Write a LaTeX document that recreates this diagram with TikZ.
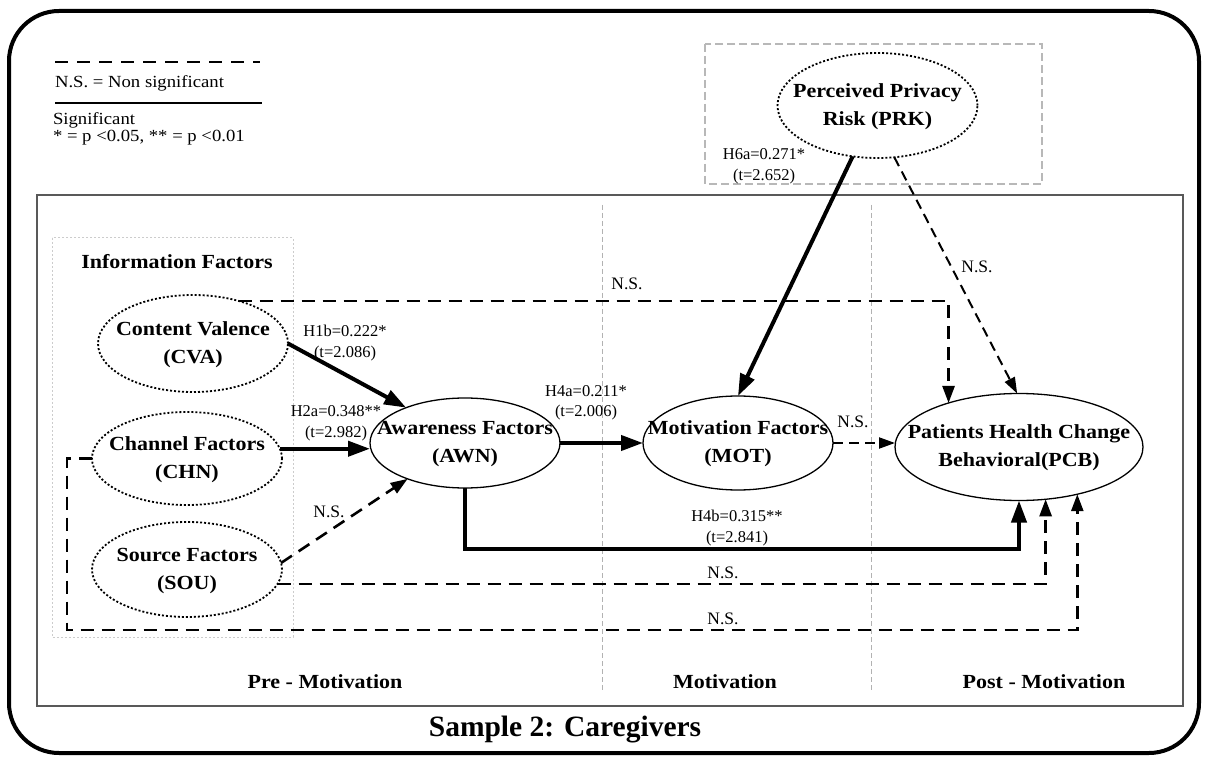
\documentclass[tikz,border=0pt]{standalone}
\usepackage{fontspec}
\setmainfont{Liberation Serif}
\newfontfamily\widefont[FakeStretch=1.1]{Liberation Serif}
\usetikzlibrary{arrows.meta,calc,shapes.geometric}
\newcommand{\twolines}[1]{\makebox[0pt]{\begin{tabular}{@{}c@{}}#1\end{tabular}}}
\begin{document}
\begin{tikzpicture}[x=1pt,y=-1pt,
  every node/.style={inner sep=0pt, outer sep=0pt},
  latent/.style={ellipse, draw, line width=1.3pt, font=\widefont\bfseries\fontsize{20}{28}\selectfont},
  dotlatent/.style={latent, dash pattern=on 2pt off 2pt, line width=1.8pt},
  sig/.style={line width=4pt, -{Triangle[length=22pt,width=15pt]}},
  ns/.style={line width=2.6pt, dash pattern=on 13pt off 8pt, -{Triangle[length=17pt,width=12pt]}},
  nsthin/.style={line width=2pt, dash pattern=on 10pt off 6pt, -{Triangle[length=16pt,width=11pt]}},
  lab/.style={font=\fontsize{16.5}{20.5}\selectfont, align=center},
  nslab/.style={font=\fontsize{17.5}{20}\selectfont},
  legtext/.style={anchor=west, font=\widefont\fontsize{17}{20}\selectfont},
  stage/.style={font=\widefont\bfseries\fontsize{20}{24}\selectfont},
  sepline/.style={draw=black!30, line width=1pt, dash pattern=on 5pt off 3pt},
]
\useasboundingbox (0,0) rectangle (1208,759);
\fill[white] (0,0) rectangle (1208,759);

% frames
\draw[line width=4pt, rounded corners=50pt] (9,11) rectangle (1199,753);
\draw[line width=2.5pt, draw=black!65] (37,195) rectangle (1183,706);
\draw[sepline] (602,205) -- (602,690);
\draw[sepline] (871,205) -- (871,690);
\draw[draw=black!20, line width=1pt, dash pattern=on 2pt off 2pt] (52,238) rectangle (293,637);
\draw[draw=black!28, line width=1.3pt, dash pattern=on 8pt off 4pt] (705,44) rectangle (1042,184);

% legend
\draw[line width=2.5pt, dash pattern=on 13pt off 9pt] (55,62) -- (260,62);
\node[legtext] (lgns) at (55,83) {N.S. = Non significant};
\draw[line width=2.5pt] (55,103) -- (262,103);
\node[legtext] (lgsig) at (53,120) {Significant};
\node[legtext] (lgp) at (53,138) {* = p <0.05, ** = p <0.01};

% group title
\node[font=\widefont\bfseries\fontsize{20}{24}\selectfont] (info) at (177,262) {Information Factors};

% latent variables
\node[dotlatent, minimum width=190pt, minimum height=97pt] (CVA) at (193,343.5) {\twolines{Content Valence\\(CVA)}};
\node[dotlatent, minimum width=190pt, minimum height=93pt] (CHN) at (187,458.5) {\twolines{Channel Factors\\(CHN)}};
\node[dotlatent, minimum width=190pt, minimum height=95pt] (SOU) at (187,569.5) {\twolines{Source Factors\\(SOU)}};
\node[latent, minimum width=190pt, minimum height=90pt] (AWN) at (465,443) {\twolines{Awareness Factors\\(AWN)}};
\node[latent, minimum width=190pt, minimum height=94pt] (MOT) at (738,443) {\twolines{Motivation Factors\\(MOT)}};
\node[latent, minimum width=248pt, minimum height=107pt] (PCB) at (1019,447) {\twolines{Patients Health Change\\Behavioral(PCB)}};
\node[dotlatent, minimum width=200pt, minimum height=105pt] (PRK) at (877.5,105.5) {\twolines{Perceived Privacy\\Risk (PRK)}};

% paths
\draw[sig] (CVA.east) -- (AWN.149);
\draw[sig] (CHN.6) -- (CHN.6 -| AWN.west);
\draw[ns] (SOU.4) -- (AWN.212);
\draw[sig] (AWN.east) -- (MOT.west);
\draw[nsthin] (MOT.east) -- (MOT.east -| PCB.west);
\draw[sig] (PRK.-116) -- (MOT.north);
\draw[nsthin] (PRK.-72) -- (PCB.92);
\draw[ns] (CVA.43) -| (PCB.148);
\draw[sig] (AWN.south) |- ($(PCB.south)+(0,48)$) -- (PCB.south);
\draw[ns] (SOU.-9) -| (PCB.-63);
\coordinate (chnc) at (67,630);
\draw[ns] (CHN.west) -| (chnc) -| (PCB.-39);

% path labels
\node[lab] (l1b) at (345,343) {H1b=0.222*\\(t=2.086)};
\node[lab] (l2a) at (336,423.5) {H2a=0.348**\\(t=2.982)};
\node[lab] (l4a) at (586,403) {H4a=0.211*\\(t=2.006)};
\node[lab] (l4b) at (737,528) {H4b=0.315**\\(t=2.841)};
\node[lab] (l6a) at (764,166.5) {H6a=0.271*\\(t=2.652)};
\node[nslab] (ns1) at (627,284) {N.S.};
\node[nslab] (ns2) at (977,267) {N.S.};
\node[nslab] (ns3) at (853,422) {N.S.};
\node[nslab] (ns4) at (329,512) {N.S.};
\node[nslab] (ns5) at (723,573) {N.S.};
\node[nslab] (ns6) at (723,619) {N.S.};

% stages and title
\node[stage] (pre) at (325,682) {Pre - Motivation};
\node[stage] (mot) at (725,682) {Motivation};
\node[stage] (post) at (1044,682) {Post - Motivation};
\node[font=\bfseries\fontsize{29.5}{32}\selectfont] (title) at (565,730) {Sample 2: Caregivers};
\end{tikzpicture}
\end{document}
